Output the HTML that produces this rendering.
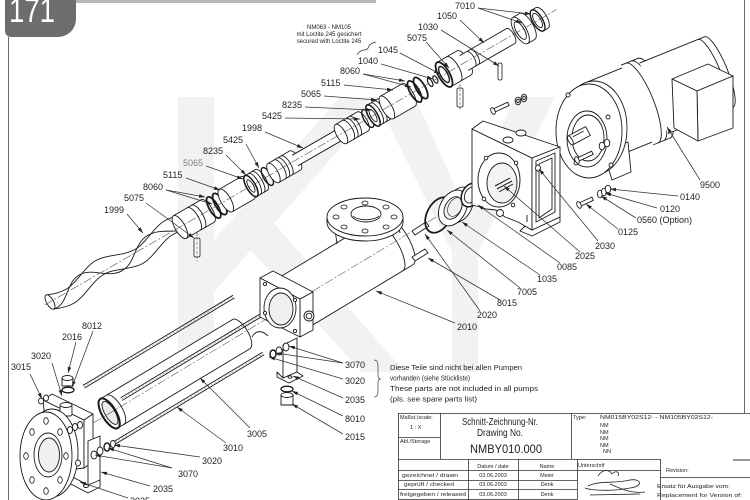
<!DOCTYPE html>
<html><head><meta charset="utf-8"><title>NMBY010.000</title>
<style>
html,body{margin:0;padding:0;background:#fff;width:750px;height:500px;overflow:hidden}
svg{display:block}
text{font-family:"Liberation Sans",Arial,sans-serif;fill:#1e1e1e}
</style></head><body>
<svg xmlns="http://www.w3.org/2000/svg" width="750" height="500" viewBox="0 0 750 500">
<defs>
<marker id="a" viewBox="0 0 10 10" refX="10" refY="5" markerUnits="userSpaceOnUse" markerWidth="6" markerHeight="6" orient="auto"><path d="M0,2 L10,5 L0,8 z" fill="#222"/></marker>
</defs>
<rect width="750" height="500" fill="#fff"/>

<!-- watermark -->
<g fill="#f2f2f2">
<rect x="178" y="97" width="36" height="275"/>
<polygon points="214,240 340,97 385,97 214,292"/>
<polygon points="232,230 258,205 405,372 362,372"/>
<polygon points="375,97 415,97 478,238 452,252"/>
<polygon points="515,97 555,97 478,252 456,230"/>
<rect x="452" y="236" width="26" height="136"/>
</g>

<!-- frame / badge -->
<rect x="76" y="0" width="300" height="3" fill="#b8b8b8"/>
<line x1="8.5" y1="37" x2="8.5" y2="500" stroke="#666" stroke-width="1"/>
<line x1="744.5" y1="0" x2="744.5" y2="413" stroke="#666" stroke-width="1"/>
<path d="M5,0 H76 V19 A18,18 0 0 1 58,37 H11 A6,6 0 0 1 5,31 Z" fill="#6d6d6d"/>
<text x="9" y="22" font-size="34" style="fill:#fff" textLength="46" lengthAdjust="spacingAndGlyphs">171</text>

<!-- ===== upper shaft assembly ===== -->
<g transform="translate(50,302) rotate(-30)" fill="#fff" stroke="#1a1a1a" stroke-width="0.9">
<path d="M0,-8 C7,-5 13,-3 20,-3 C33,-3 47,-13 60,-13 C73,-13 87,-3 100,-3 C113,-3 127,-13 140,-13 C143,-13 147,-12.5 152,-11.5 L152,4.5 C147,3.5 143,3 140,3 C127,3 113,13 100,13 C87,13 73,3 60,3 C47,3 33,13 20,13 C13,13 7,11 0,8 Z"/>
<path fill="none" d="M0,8 C15,12 25,-12 42,-8.5 C55,-7 65,12 82,8.5 C95,7 105,-12 122,-8.5 C135,-7 145,5 152,3"/>
<ellipse cx="0" cy="0" rx="3.5" ry="8"/>
<path d="M150,-13 H182 A5,13 0 0 1 182,13 H150"/><ellipse cx="150" rx="5" ry="13"/>
<path fill="none" d="M166,-13 A5,13 0 0 1 166,13 M171,-13 A5,13 0 0 1 171,13"/>
<ellipse cx="189" rx="4.5" ry="12" fill="none" stroke-width="1.8"/>
<ellipse cx="196" rx="4.5" ry="12" fill="none" stroke-width="1.8"/>
<path d="M203,-13 H228 A5,13 0 0 1 228,13 H203"/><ellipse cx="203" rx="5" ry="13"/>
<path d="M232,-12 H244 A4.5,12 0 0 1 244,12 H232"/><ellipse cx="232" rx="4.5" ry="12" stroke-width="1.6"/><ellipse cx="232" rx="2.5" ry="7"/>
<path fill="none" d="M236,-12 A4.5,12 0 0 1 236,12 M240,-12 A4.5,12 0 0 1 240,12"/>
<ellipse cx="251" rx="4" ry="10" fill="none" stroke-width="1.4"/>
<path d="M258,-11 H283 A4.5,11 0 0 1 283,11 H258"/><ellipse cx="258" rx="4.5" ry="11"/>
<path fill="none" d="M265,-11 A4.5,11 0 0 1 265,11 M269,-11 A4.5,11 0 0 1 269,11 M273,-11 A4.5,11 0 0 1 273,11"/>
<path d="M283,-6 H336 A2.5,6 0 0 1 336,6 H283"/>
<path d="M336,-11 H361 A4.5,11 0 0 1 361,11 H336"/><ellipse cx="336" rx="4.5" ry="11"/>
<path fill="none" d="M344,-11 A4.5,11 0 0 1 344,11 M348,-11 A4.5,11 0 0 1 348,11 M352,-11 A4.5,11 0 0 1 352,11"/>
<ellipse cx="367" rx="4" ry="10" fill="none" stroke-width="1.4"/>
<path d="M373,-12 H385 A4.5,12 0 0 1 385,12 H373"/><ellipse cx="373" rx="4.5" ry="12" stroke-width="1.6"/><ellipse cx="373" rx="2.5" ry="7"/>
<path fill="none" d="M377,-12 A4.5,12 0 0 1 377,12 M381,-12 A4.5,12 0 0 1 381,12"/>
<path d="M389,-13 H414 A5,13 0 0 1 414,13 H389"/><ellipse cx="389" rx="5" ry="13"/>
<ellipse cx="421" rx="4.5" ry="12" fill="none" stroke-width="1.8"/>
<ellipse cx="428" rx="4.5" ry="12" fill="none" stroke-width="1.8"/>
<ellipse cx="439" rx="2" ry="4.5" stroke-width="1.2"/>
<ellipse cx="445" rx="2" ry="4" stroke-width="1.2"/>
<path d="M455,-14 H478 A5.5,14 0 0 1 478,14 H455"/><ellipse cx="455" rx="5.5" ry="14" stroke-width="1.8"/><ellipse cx="455" rx="3.5" ry="9" stroke-width="1.4"/>
<path fill="none" d="M466,-14 A5.5,14 0 0 1 466,14"/>
<path d="M478,-8.5 H532 A3.5,8.5 0 0 1 532,8.5 H478"/>
<path fill="none" d="M486,-8.5 A3.5,8.5 0 0 1 486,8.5 M490,-8.5 A3.5,8.5 0 0 1 490,8.5"/>
<path d="M543,-15 H551 A6,15 0 0 1 551,15 H543"/><ellipse cx="543" rx="6" ry="15"/><ellipse cx="543" rx="4" ry="10"/>
<path d="M563,-12 H568 A5,12 0 0 1 568,12 H563"/><ellipse cx="563" rx="5" ry="12" stroke-width="1.4"/><ellipse cx="563" rx="3.3" ry="8"/>
<line x1="-6" y1="0" x2="585" y2="0" stroke="#444" stroke-width="0.5" stroke-dasharray="9 2 2 2"/>
</g>
<g fill="#fff" stroke="#1a1a1a" stroke-width="0.8">
<rect x="194" y="238" width="6" height="19" rx="1.5"/>
<rect x="457" y="88" width="6" height="19" rx="1.5"/>
<rect x="498" y="63" width="4" height="17" rx="1.5"/>
<line x1="197" y1="233" x2="197" y2="261" stroke-width=".5" stroke-dasharray="3 1.5"/>
<line x1="460" y1="84" x2="460" y2="110" stroke-width=".5" stroke-dasharray="3 1.5"/>
</g>

<!-- ===== lower assembly ===== -->
<g transform="translate(278,312) rotate(-31)" fill="#fff" stroke="#1a1a1a" stroke-width="0.9">
<path d="M-197,-17 H-43 A7,17 0 0 1 -43,17 H-197"/>
<ellipse cx="-197" rx="7" ry="17" stroke-width="2"/>
<ellipse cx="-196" rx="5" ry="13" fill="#ececec"/>
<path fill="none" d="M-190,-17 A7,17 0 0 1 -190,17"/>
<path fill="none" d="M-205,-37.5 H-30 M-205,-34.5 H-30 M-179,-7.5 H-15 M-179,-4.5 H-15 M-207,26.5 H-34 M-207,29.5 H-34"/>
<path fill="none" stroke="#999" stroke-width=".6" stroke-dasharray="2 2" d="M-205,-36 H-30 M-179,-6 H-15 M-207,28 H-34"/>
<path d="M12,-29 H140 A10,29 0 0 1 140,29 H12"/>
<path fill="none" d="M128,-29 A10,29 0 0 1 128,29"/>
<line x1="-290" y1="0" x2="312" y2="0" stroke="#444" stroke-width=".5" stroke-dasharray="9 2 2 2"/>
</g>

<g fill="#fff" stroke="#1a1a1a" stroke-width="0.9" stroke-linejoin="round">
<!-- casing flange plate -->
<polygon points="260,278 273,271 313,292 300,299"/>
<polygon points="300,299 313,292 313,330 300,337"/>
<polygon points="260,278 300,299 300,337 260,317"/>
<ellipse cx="280" cy="308" rx="16" ry="20"/>
<ellipse cx="281" cy="309" rx="12" ry="16" fill="#efefef"/>
<circle cx="265" cy="284" r="1.6"/><circle cx="295" cy="300" r="1.6"/><circle cx="295" cy="331" r="1.6"/><circle cx="265" cy="313" r="1.6"/>
<circle cx="309" cy="316" r="5"/><circle cx="309" cy="316" r="2.8"/>
<!-- inlet neck + flange -->
<path fill="none" d="M334,222 L337,244 M398,222 L400,233"/>
<ellipse cx="365" cy="222" rx="38" ry="19"/>
<path fill="none" d="M327,217 V222 M403,217 V222"/>
<ellipse cx="365" cy="217" rx="38" ry="19"/>
<ellipse cx="366" cy="214" rx="15" ry="8"/>
<path fill="none" d="M353,216 A14,6 0 0 0 379,216"/>
<g stroke-width=".8">
<ellipse cx="394" cy="217" rx="3" ry="2"/><ellipse cx="386" cy="207" rx="3" ry="2"/><ellipse cx="365" cy="203" rx="3" ry="2"/><ellipse cx="344" cy="207" rx="3" ry="2"/>
<ellipse cx="336" cy="217" rx="3" ry="2"/><ellipse cx="344" cy="227" rx="3" ry="2"/><ellipse cx="365" cy="231" rx="3" ry="2"/><ellipse cx="386" cy="227" rx="3" ry="2"/>
</g>
<!-- pins 2020 -->
<polygon points="412,231 426,222 429,226 415,235"/>
<polygon points="412,257 425,249 428,253 415,261"/>
<!-- gland parts -->
<ellipse cx="439" cy="215" rx="12" ry="19" transform="rotate(28 439 215)" fill="none" stroke-width="1.8"/>
<ellipse cx="459" cy="205" rx="13" ry="19" transform="rotate(28 459 205)"/>
<ellipse cx="453" cy="208" rx="13" ry="19" transform="rotate(28 453 208)"/>
<ellipse cx="453" cy="208" rx="8" ry="12" transform="rotate(28 453 208)" fill="#f0f0f0"/>
<ellipse cx="455" cy="207" rx="6.5" ry="10" transform="rotate(28 455 207)" fill="none" stroke-width=".6"/>
<ellipse cx="471" cy="195" rx="9" ry="12.5" transform="rotate(28 471 195)" stroke-width="1.5"/>
<ellipse cx="471" cy="195" rx="6" ry="8.5" transform="rotate(28 471 195)"/>
</g>

<!-- ===== motor ===== -->
<g transform="translate(600,120) rotate(-22)" fill="#fff" stroke="#1a1a1a" stroke-width="0.9">
<path d="M3,-40 H40 A12,40 0 0 1 40,40 H3"/>
<path d="M40,-43 H58 A12,43 0 0 1 58,43 H40"/>
<path fill="none" d="M45,-43 A12,43 0 0 1 45,43 M51,-43 A12,43 0 0 1 51,43"/>
<path d="M58,-38 H128 A9,38 0 0 1 128,38 H58"/>
<path fill="none" d="M121,-38 A9,38 0 0 1 121,38"/>
</g>
<g fill="#fff" stroke="#1a1a1a" stroke-width="0.9" stroke-linejoin="round">
<polygon points="672,79 708,64 733,76 697,91"/>
<polygon points="697,91 733,76 733,128 698,141"/>
<polygon points="672,79 697,91 698,141 674,128"/>
<polygon points="603,150 628,142 631,172 612,180"/>
<ellipse cx="594" cy="128" rx="33" ry="47"/>
<ellipse cx="589" cy="131" rx="33" ry="47"/>
<ellipse cx="587" cy="139" rx="20" ry="28"/>
<ellipse cx="588" cy="138" rx="16" ry="23"/>
<circle cx="568" cy="95" r="2"/><circle cx="608" cy="117" r="2"/><circle cx="576" cy="163" r="2"/><circle cx="611" cy="165" r="2"/>
<g transform="translate(588,131) rotate(-28)"><path d="M-20,-5 H0 V5 H-20"/><ellipse cx="-20" rx="2" ry="5"/><path fill="none" d="M-16,-2 H-4"/></g>
</g>

<!-- ===== lantern housing ===== -->
<g fill="#fff" stroke="#1a1a1a" stroke-width="0.9" stroke-linejoin="round">
<polygon points="520,231 532,236 560,222 560,217 532,230 525,226"/>
<polygon points="472,129 532,158 532,230 525,226 518,222 505,217 496,210 486,209 480,207 472,205"/>
<polygon points="472,129 483,121 560,147 532,158"/>
<polygon points="532,158 560,147 560,217 532,230"/>
<polygon points="536,161 555,153 555,212 536,222"/>
<polygon points="539,164 552,158 552,209 539,218"/>
<ellipse cx="538" cy="168" rx="2.5" ry="3"/>
<ellipse cx="508" cy="140" rx="5" ry="3"/>
<ellipse cx="521" cy="133" rx="5" ry="3"/>
<ellipse cx="499" cy="180" rx="21" ry="27"/>
<ellipse cx="502" cy="183" rx="15" ry="20" fill="#f3f3f3"/>
<circle cx="486" cy="158" r="1.8"/><circle cx="516" cy="163" r="1.8"/><circle cx="513" cy="205" r="1.8"/><circle cx="484" cy="199" r="1.8"/>
<circle cx="500" cy="213" r="3.5"/>
<path fill="none" stroke-width="1" d="M495,186 L510,178 M497,189 L512,181 M499,192 L513,184"/>
<line x1="527" y1="215" x2="527" y2="222"/>
<!-- screws -->
<g transform="translate(493,111) rotate(-25)"><path d="M0,-1.8 H17 V1.8 H0"/><ellipse cx="0" rx="2" ry="3.5"/></g>
<ellipse cx="518" cy="101" rx="2.8" ry="3.8"/><ellipse cx="518" cy="101" rx="1.3" ry="1.8"/>
<ellipse cx="524" cy="98" rx="2.8" ry="3.8"/><ellipse cx="524" cy="98" rx="1.3" ry="1.8"/>
<g transform="translate(577,160) rotate(-25)"><path d="M0,-1.8 H17 V1.8 H0"/><ellipse cx="0" rx="2" ry="3.5"/></g>
<ellipse cx="602" cy="146" rx="2.8" ry="3.8"/><ellipse cx="607" cy="143" rx="2.8" ry="3.8"/>
<g transform="translate(579,205) rotate(-25)"><path d="M0,-1.8 H15 V1.8 H0"/><ellipse cx="0" rx="2" ry="3.5"/></g>
<ellipse cx="600" cy="194" rx="2.5" ry="3.8"/><ellipse cx="604" cy="192" rx="2.5" ry="3.8"/><ellipse cx="608" cy="189" rx="2.8" ry="3.8"/>
</g>

<!-- ===== suction housing & feet ===== -->
<g fill="#fff" stroke="#1a1a1a" stroke-width="0.9" stroke-linejoin="round">
<polygon points="43,400 84,420 84,468 50,472"/>
<polygon points="43,400 52,394 93,414 84,420"/>
<polygon points="84,420 93,414 93,462 84,468"/>
<rect x="60" y="405" width="12" height="11" rx="2"/><ellipse cx="66" cy="405" rx="6" ry="2.5"/>
<ellipse cx="68" cy="390" rx="6" ry="2.8" fill="none" stroke-width="1.3"/>
<path d="M62,378 H73 V386 H62 Z"/><ellipse cx="67.5" cy="378" rx="5.5" ry="2.5"/>
<ellipse cx="41" cy="401" rx="2.5" ry="3"/><ellipse cx="46" cy="398" rx="2.5" ry="3"/>
<polygon points="88,441 100,436 100,485 88,490"/>
<polygon points="63,472 88,485 100,480 100,487 88,493 63,480"/>
<ellipse cx="86" cy="486" rx="2.5" ry="1.5"/>
<ellipse cx="52" cy="453" rx="26" ry="44"/>
<ellipse cx="46" cy="456" rx="26" ry="44"/>
<ellipse cx="48" cy="455" rx="14" ry="22"/>
<ellipse cx="49" cy="455" rx="10.5" ry="17" fill="#f0f0f0"/>
<g stroke-width=".8">
<ellipse cx="66" cy="456" rx="2.3" ry="3.3"/><ellipse cx="60" cy="432" rx="2.3" ry="3.3"/><ellipse cx="46" cy="421" rx="2.3" ry="3.3"/><ellipse cx="32" cy="432" rx="2.3" ry="3.3"/>
<ellipse cx="26" cy="456" rx="2.3" ry="3.3"/><ellipse cx="32" cy="480" rx="2.3" ry="3.3"/><ellipse cx="46" cy="491" rx="2.3" ry="3.3"/><ellipse cx="60" cy="480" rx="2.3" ry="3.3"/>
</g>
<ellipse cx="70" cy="430" rx="2.5" ry="3.5"/><ellipse cx="75" cy="427" rx="2.5" ry="3.5"/><ellipse cx="80" cy="425" rx="2.5" ry="3.5"/>
<ellipse cx="94" cy="455" rx="3" ry="4"/><ellipse cx="100" cy="451" rx="3" ry="4"/><ellipse cx="107" cy="447" rx="3" ry="4" stroke-width="1.4"/><ellipse cx="113" cy="444" rx="2.5" ry="3.5"/>
<ellipse cx="78" cy="463" rx="2.5" ry="3"/>
<!-- right foot -->
<polygon points="283,345 297,338 297,372 283,378"/>
<polygon points="277,372 283,378 297,372 303,376 289,383 277,377"/>
<ellipse cx="290" cy="377" rx="2" ry="1.2"/>
<ellipse cx="273" cy="354" rx="3" ry="4" stroke-width="1.4"/><ellipse cx="279" cy="351" rx="3" ry="4"/><ellipse cx="286" cy="347" rx="3" ry="4"/>
<ellipse cx="287" cy="389" rx="6" ry="2.8" fill="none" stroke-width="1.3"/>
<path d="M281,395 H293 V405 H281 Z"/><ellipse cx="287" cy="395" rx="6" ry="2.5"/>
<path fill="none" d="M252,337 C256,330 262,330 268,336"/>
</g>

<!-- ===== leader lines ===== -->
<g fill="none" stroke="#333" stroke-width="0.75" marker-end="url(#a)">
<path d="M127,214 L143,233"/>
<path d="M146,203 L194,238"/>
<path d="M166,190 L205,197"/><path d="M166,190 L212,204"/>
<path d="M186,178 L220,190"/>
<path d="M206,166 L243,179"/>
<path d="M226,155 L246,175"/>
<path d="M246,144 L259,168"/>
<path d="M265,132 L303,148"/>
<path d="M285,118 L360,119"/>
<path d="M305,107 L372,110"/>
<path d="M324,96 L377,100"/>
<path d="M344,85 L393,90"/>
<path d="M363,74 L405,81"/><path d="M363,74 L411,87"/>
<path d="M381,64 L433,79"/>
<path d="M400,53 L440,74"/>
<path d="M426,42 L449,68"/>
<path d="M441,30 L499,66"/>
<path d="M460,20 L484,43"/>
<path d="M478,8 L531,14"/><path d="M478,8 L522,23"/>
<path d="M700,180 L667,127"/>
<path d="M678,196 L610,189"/>
<path d="M657,208 L605,193"/>
<path d="M636,218 L601,196"/>
<path d="M618,229 L586,204"/>
<path d="M598,241 L539,169"/>
<path d="M580,252 L504,186"/>
<path d="M560,263 L478,205"/>
<path d="M540,275 L462,222"/>
<path d="M520,288 L447,230"/>
<path d="M500,300 L428,258"/>
<path d="M480,311 L425,234"/>
<path d="M455,323 L376,291"/>
<path d="M93,331 L72,387"/>
<path d="M76,342 L68,373"/>
<path d="M52,363 L62,396"/>
<path d="M30,374 L42,399"/>
<path d="M343,363 L289,346"/><path d="M343,363 L276,353"/>
<path d="M343,379 L269,357"/>
<path d="M343,398 L293,376"/>
<path d="M343,416 L292,391"/>
<path d="M343,434 L292,404"/>
<path d="M250,428 L200,378"/>
<path d="M226,443 L177,407"/>
<path d="M200,457 L114,445"/>
<path d="M172,468 L108,448"/><path d="M172,468 L95,455"/>
<path d="M150,486 L101,472"/>
<path d="M128,498 L80,482"/>
</g>

<!-- ===== labels ===== -->
<g font-size="9">
<text x="104" y="213">1999</text>
<text x="124" y="201">5075</text>
<text x="143" y="190">8060</text>
<text x="163" y="178">5115</text>
<text x="183" y="166" style="fill:#808080">5065</text>
<text x="203" y="154">8235</text>
<text x="223" y="143">5425</text>
<text x="242" y="131">1998</text>
<text x="262" y="119">5425</text>
<text x="282" y="108">8235</text>
<text x="301" y="97">5065</text>
<text x="321" y="86">5115</text>
<text x="340" y="74">8060</text>
<text x="358" y="64">1040</text>
<text x="378" y="53">1045</text>
<text x="407" y="41">5075</text>
<text x="418" y="30">1030</text>
<text x="437" y="19">1050</text>
<text x="455" y="9">7010</text>
<text x="700" y="188">9500</text>
<text x="680" y="200">0140</text>
<text x="660" y="212">0120</text>
<text x="637" y="223">0560  (Option)</text>
<text x="618" y="235">0125</text>
<text x="595" y="249">2030</text>
<text x="575" y="259">2025</text>
<text x="557" y="270">0085</text>
<text x="537" y="282">1035</text>
<text x="517" y="295">7005</text>
<text x="497" y="306">8015</text>
<text x="477" y="318">2020</text>
<text x="457" y="330">2010</text>
<text x="82" y="329">8012</text>
<text x="62" y="340">2016</text>
<text x="31" y="359">3020</text>
<text x="11" y="370">3015</text>
<text x="345" y="368">3070</text>
<text x="345" y="384">3020</text>
<text x="345" y="403">2035</text>
<text x="345" y="422">8010</text>
<text x="345" y="440">2015</text>
<text x="247" y="437">3005</text>
<text x="223" y="451">3010</text>
<text x="202" y="464">3020</text>
<text x="178" y="477">3070</text>
<text x="153" y="492">2035</text>
<text x="130" y="504">3025</text>
</g>

<!-- top note -->
<g font-size="6" text-anchor="middle">
<text x="329" y="29">NM063  -  NM105</text>
<text x="329" y="36">mit Loctite 245 gesichert</text>
<text x="329" y="43">secured with Loctite 245</text>
</g>
<path d="M357,55 Q360,50 364,50 Q368,50 369,46 Q371,43 376,42" fill="none" stroke="#333" stroke-width=".7"/>

<!-- side note -->
<path d="M374,360 Q378,360 378,366 L378,375 Q378,379 381,379 Q378,379 378,383 L378,392 Q378,397 374,397" fill="none" stroke="#555" stroke-width=".8"/>
<g font-size="7.5">
<text x="390" y="370" textLength="132" lengthAdjust="spacingAndGlyphs">Diese Teile sind nicht bei allen Pumpen</text>
<text x="390" y="380.5" textLength="80" lengthAdjust="spacingAndGlyphs">vorhanden (siehe Stückliste)</text>
<text x="390" y="391" textLength="148" lengthAdjust="spacingAndGlyphs">These parts are not included in all pumps</text>
<text x="390" y="401.5" textLength="87" lengthAdjust="spacingAndGlyphs">(pls. see spare parts list)</text>
</g>

<!-- ===== title block ===== -->
<g stroke="#333" stroke-width="0.8" fill="none">
<path d="M398,413.5 H750 M398.5,413 V500 M440.5,413 V459 M398,437.5 H440 M571.5,413 V459"/>
<path d="M398,459.5 H660 M398,470.5 H660 M398,480.5 H577 M398,489.5 H577 M398,499.5 H577"/>
<path d="M468.5,459 V500 M518.5,459 V500 M577.5,459 V500 M660.5,459 V500 M660,477.5 H750"/>
<path d="M733,460 H750" stroke="#999" stroke-width="2"/>
<path d="M598,476 C603,468 610,470 612,474 C616,470 620,472 618,476 M588,486 C600,480 615,484 630,480 C640,478 645,486 630,488 C610,492 590,490 585,488 M590,495 L640,494 M610,484 C620,488 630,494 645,492" stroke="#222"/>
</g>
<g font-size="5.5">
<text x="400" y="419">Maßst./scale:</text>
<text x="410" y="429">1 : X</text>
<text x="400" y="443">Abl./Storage</text>
<text x="573" y="419">Type:</text>
<text x="600" y="419" textLength="113" lengthAdjust="spacingAndGlyphs">NM015BY02S12-  -  NM105BY02S12-</text>
<text x="600" y="427">NM</text>
<text x="600" y="434">NM</text>
<text x="600" y="440">NM</text>
<text x="600" y="447">NM</text>
<text x="603" y="453">NN</text>
<text x="493" y="468" text-anchor="middle">Datum / date</text>
<text x="547" y="468" text-anchor="middle">Name</text>
<text x="578" y="467">Unterschrif</text>
<text x="402" y="477" textLength="56" lengthAdjust="spacingAndGlyphs">gezeichnet / drawn</text>
<text x="404" y="486" textLength="50" lengthAdjust="spacingAndGlyphs">geprüft / checked</text>
<text x="400" y="496" textLength="66" lengthAdjust="spacingAndGlyphs">freigegeben / released</text>
<text x="493" y="477" text-anchor="middle">03.06.2003</text>
<text x="493" y="486" text-anchor="middle">03.06.2003</text>
<text x="493" y="496" text-anchor="middle">03.06.2003</text>
<text x="547" y="477" text-anchor="middle">Meier</text>
<text x="547" y="486" text-anchor="middle">Denk</text>
<text x="547" y="496" text-anchor="middle">Denk</text>
<text x="666" y="472">Revision:</text>
<text x="657" y="488" textLength="73" lengthAdjust="spacingAndGlyphs">Ersatz für Ausgabe vom:</text>
<text x="657" y="497" textLength="85" lengthAdjust="spacingAndGlyphs">Replacement for Version of:</text>
</g>
<text x="462" y="425" font-size="10" textLength="76" lengthAdjust="spacingAndGlyphs">Schnitt-Zeichnung-Nr.</text>
<text x="477" y="436" font-size="10" textLength="46" lengthAdjust="spacingAndGlyphs">Drawing No.</text>
<text x="470" y="453" font-size="11.5" textLength="72" lengthAdjust="spacingAndGlyphs">NMBY010.000</text>
</svg>
</body></html>
